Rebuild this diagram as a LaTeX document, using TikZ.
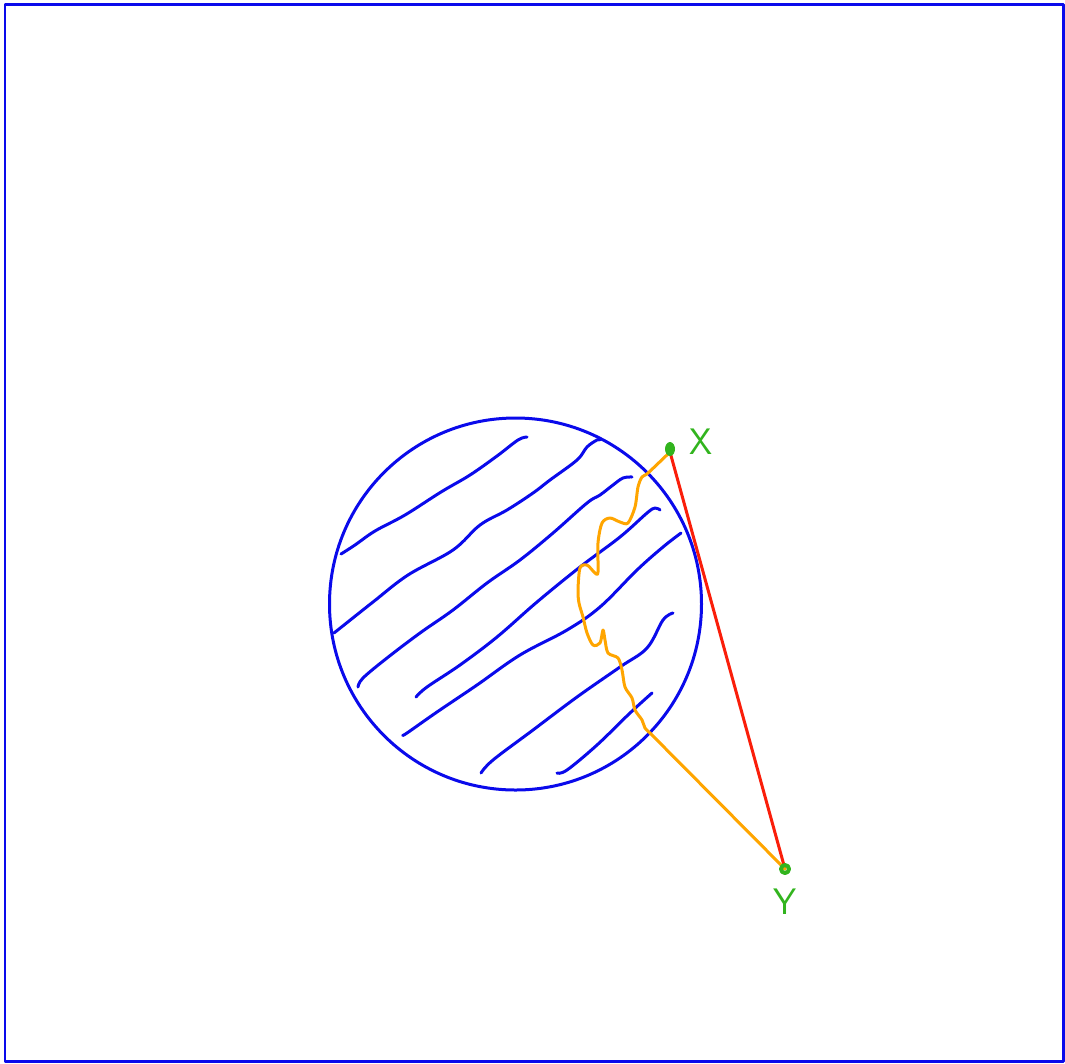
\documentclass[tikz,border=0pt]{standalone}
\usepackage{tikz}
\usetikzlibrary{positioning}
\usepackage{xcolor}
\definecolor{penblue}{RGB}{10,10,235}
\definecolor{penorange}{RGB}{255,165,0}
\definecolor{penred}{RGB}{250,30,10}
\definecolor{pengreen}{RGB}{50,180,30}

\begin{document}
\begin{tikzpicture}[x=0.02cm,y=-0.02cm,line cap=round,line join=round,
  hatch/.style={draw=penblue,line width=0.06cm},
  label text/.style={text=pengreen,font=\sffamily\fontsize{21}{24}\selectfont,inner sep=0pt}]
\useasboundingbox (0,0) rectangle (1065,1063);
\draw[penblue,line width=0.06cm] (5,4) rectangle (1063,1061);
% disc and its hatching
\draw[penblue,line width=0.06cm] (515.5,604) circle (186);
\draw[hatch] plot[smooth,tension=0.6] coordinates {(341,554) (355,545) (375,531) (405,515) (441,492) (470,475) (497,456) (518,440) (527,437)};
\draw[hatch] plot[smooth,tension=0.6] coordinates {(334,633) (373,602) (408,575) (453,550) (480,525) (507,510) (533,493) (550,480) (577,460) (587,447) (597,440) (600,440)};
\draw[hatch] plot[smooth,tension=0.6] coordinates {(358,687) (363,678) (387,658) (420,633) (453,610) (487,583) (520,560) (553,533) (587,503) (600,495) (613,485) (623,478) (632,477)};
\draw[hatch] plot[smooth,tension=0.6] coordinates {(416,697) (427,687) (460,665) (497,637) (537,602) (580,567) (620,537) (647,513) (655,508) (660,510)};
\draw[hatch] plot[smooth,tension=0.6] coordinates {(403,735) (407,733) (437,712) (477,685) (520,655) (567,630) (600,607) (637,570) (663,547) (681,533)};
\draw[hatch] plot[smooth,tension=0.6] coordinates {(481,773) (493,760) (533,730) (577,697) (620,667) (647,648) (663,620) (673,613)};
\draw[hatch] plot[smooth,tension=0.6] coordinates {(557,773) (567,770) (597,745) (630,713) (652,693)};
% end points
\coordinate (xpt) at (670,452);
\coordinate (ypt) at (785,869);
\draw[penred,line width=0.06cm] (xpt) -- (ypt);
\draw[penorange,line width=0.06cm] plot[smooth,tension=0.5] coordinates {(xpt) (648,473) (642,477) (638,487) (635,507) (628,523) (620,522) (610,518) (602,523) (598,543) (598,572) (595,573) (587,565) (580,568) (578,590) (579,603) (583,617) (587,633) (593,645) (600,643) (603,630) (605,640) (608,653) (618,658) (622,670) (625,687) (632,698) (635,710) (642,720) (645,728) (650,733)} -- (ypt);
\fill[pengreen] (670,449) ellipse (5 and 7);
\draw[pengreen,line width=0.08cm] (ypt) circle (4);
\node[label text] (xlabel) at (701,442) {X};
\node[label text] (ylabel) at (785,902) {Y};
\end{tikzpicture}
\end{document}
